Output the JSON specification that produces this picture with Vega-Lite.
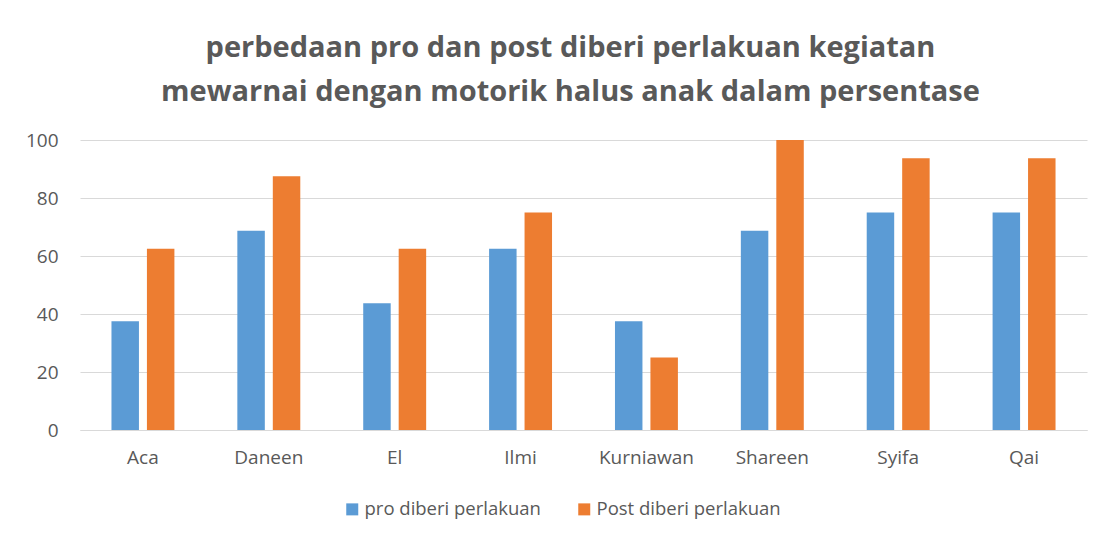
{
  "$schema": "https://vega.github.io/schema/vega-lite/v6.json",
  "width": 1007,
  "height": 290,
  "autosize": {"type": "none"},
  "padding": {"left": 80, "top": 140, "right": 33, "bottom": 110},
  "background": "white",
  "title": {
    "text": ["perbedaan pro dan post diberi perlakuan kegiatan", "mewarnai dengan motorik halus anak dalam persentase"],
    "anchor": "middle",
    "frame": "group",
    "dx": -13,
    "offset": 24,
    "font": "Open Sans",
    "fontSize": 29,
    "fontWeight": "bold",
    "color": "#595959",
    "lineHeight": 44
  },
  "data": {
    "values": [
      {"nama": "Aca", "kelompok": "pro diberi perlakuan", "nilai": 37.5},
      {"nama": "Aca", "kelompok": "Post diberi perlakuan", "nilai": 62.5},
      {"nama": "Daneen", "kelompok": "pro diberi perlakuan", "nilai": 68.75},
      {"nama": "Daneen", "kelompok": "Post diberi perlakuan", "nilai": 87.5},
      {"nama": "El", "kelompok": "pro diberi perlakuan", "nilai": 43.75},
      {"nama": "El", "kelompok": "Post diberi perlakuan", "nilai": 62.5},
      {"nama": "Ilmi", "kelompok": "pro diberi perlakuan", "nilai": 62.5},
      {"nama": "Ilmi", "kelompok": "Post diberi perlakuan", "nilai": 75},
      {"nama": "Kurniawan", "kelompok": "pro diberi perlakuan", "nilai": 37.5},
      {"nama": "Kurniawan", "kelompok": "Post diberi perlakuan", "nilai": 25},
      {"nama": "Shareen", "kelompok": "pro diberi perlakuan", "nilai": 68.75},
      {"nama": "Shareen", "kelompok": "Post diberi perlakuan", "nilai": 100},
      {"nama": "Syifa", "kelompok": "pro diberi perlakuan", "nilai": 75},
      {"nama": "Syifa", "kelompok": "Post diberi perlakuan", "nilai": 93.75},
      {"nama": "Qai", "kelompok": "pro diberi perlakuan", "nilai": 75},
      {"nama": "Qai", "kelompok": "Post diberi perlakuan", "nilai": 93.75}
    ]
  },
  "mark": {"type": "bar"},
  "encoding": {
    "x": {
      "field": "nama",
      "type": "nominal",
      "sort": null,
      "scale": {"paddingInner": 0.5, "paddingOuter": 0.25},
      "axis": {
        "title": null,
        "labelAngle": 0,
        "ticks": false,
        "tickSize": 0,
        "labelPadding": 18,
        "domain": true,
        "domainColor": "#d9d9d9",
        "domainWidth": 1,
        "labelFont": "Open Sans",
        "labelFontSize": 19,
        "labelColor": "#595959",
        "grid": false
      }
    },
    "xOffset": {
      "field": "kelompok",
      "type": "nominal",
      "sort": ["pro diberi perlakuan", "Post diberi perlakuan"],
      "scale": {"paddingInner": 0.225, "paddingOuter": 0}
    },
    "y": {
      "field": "nilai",
      "type": "quantitative",
      "scale": {"domain": [0, 100], "nice": false},
      "axis": {
        "title": null,
        "values": [0, 20, 40, 60, 80, 100],
        "domain": false,
        "ticks": false,
        "tickSize": 0,
        "labelPadding": 22,
        "labelFont": "Open Sans",
        "labelFontSize": 19,
        "labelColor": "#595959",
        "grid": true,
        "gridColor": "#d9d9d9",
        "gridWidth": 1
      }
    },
    "color": {
      "field": "kelompok",
      "type": "nominal",
      "sort": ["pro diberi perlakuan", "Post diberi perlakuan"],
      "scale": {"domain": ["pro diberi perlakuan", "Post diberi perlakuan"], "range": ["#5B9BD5", "#ED7D31"]},
      "legend": {
        "title": null,
        "orient": "none",
        "direction": "horizontal",
        "legendX": 263,
        "legendY": 360,
        "symbolType": "square",
        "symbolSize": 144,
        "symbolStrokeWidth": 0,
        "labelFont": "Open Sans",
        "labelFontSize": 18.5,
        "labelColor": "#595959",
        "labelOffset": 3,
        "labelLimit": 400,
        "columnPadding": 34
      }
    }
  },
  "config": {
    "view": {"stroke": null}
  }
}
